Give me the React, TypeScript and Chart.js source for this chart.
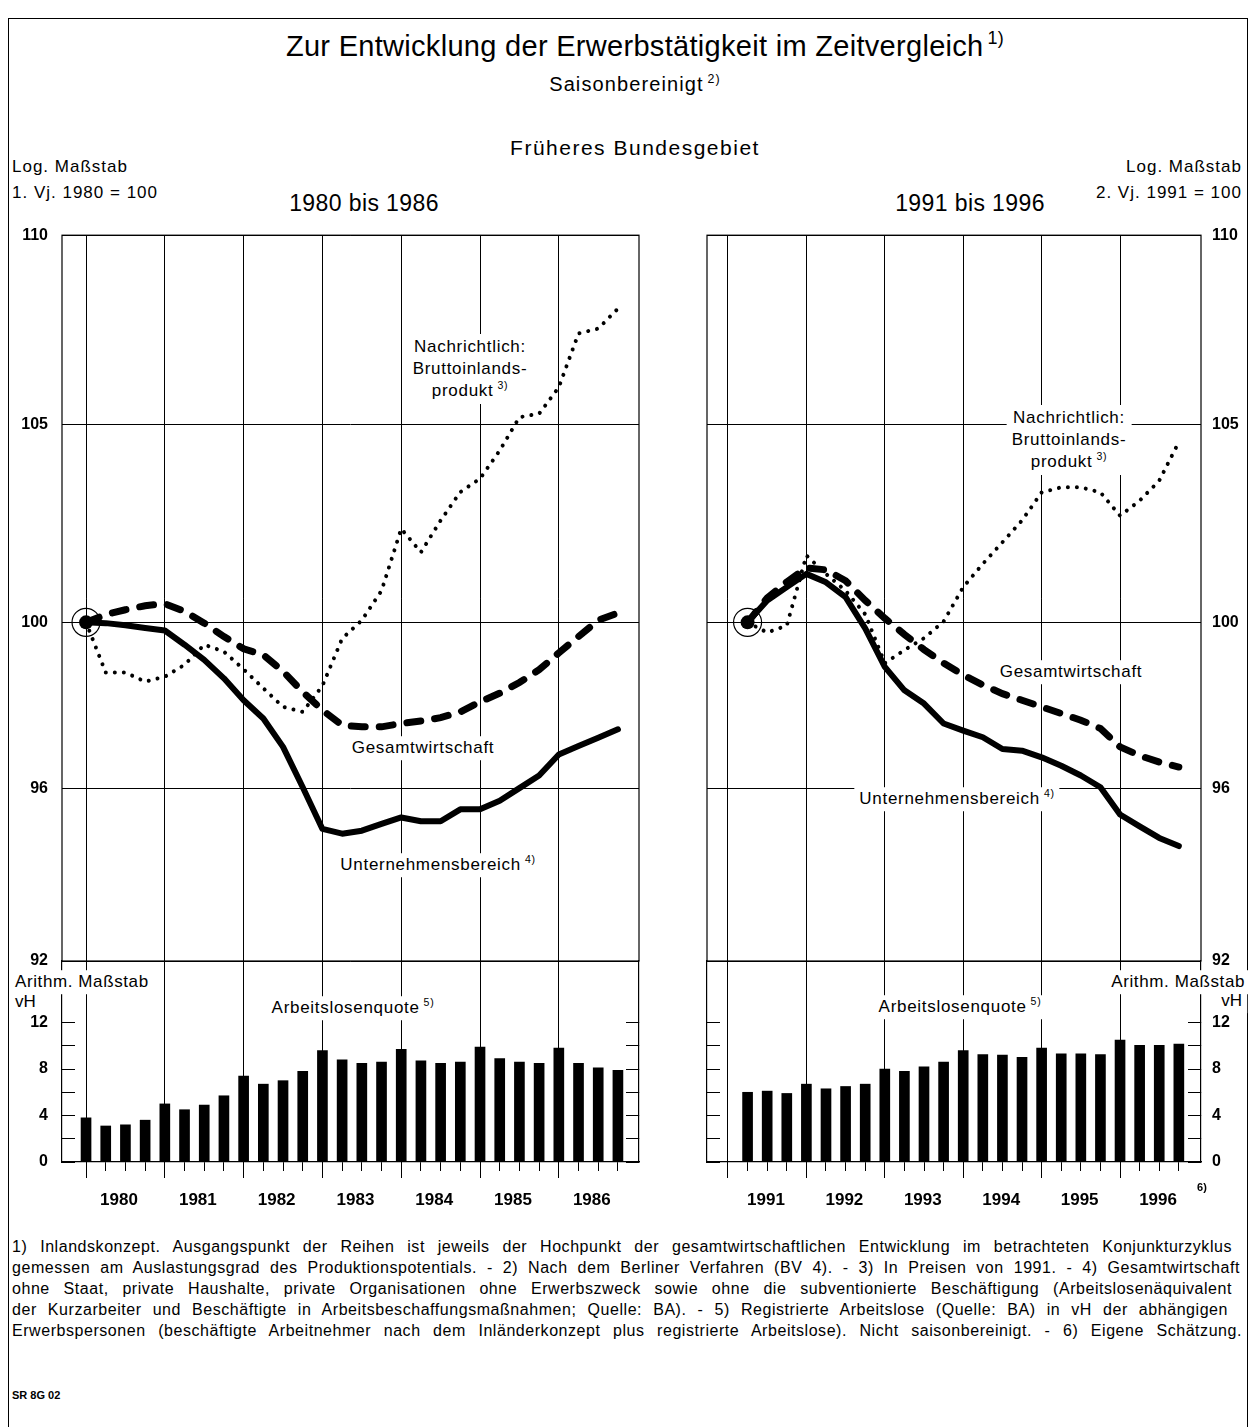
import React, { useEffect, useRef } from "react";
import { Chart, registerables } from "chart.js";

Chart.register(...registerables);

const FONT = "'Liberation Sans', Arial, Helvetica, sans-serif";
Chart.defaults.font.family = FONT;
Chart.defaults.color = "#000";

// ---------- Data: 1980 bis 1986 (1. Vj. 1980 = 100), quarters 1980 Q1 ... 1986 Q4
const yearsA = ["1980", "1981", "1982", "1983", "1984", "1985", "1986"];
const unternehmenA = [100.0, 99.98, 99.93, 99.86, 99.8, 99.45, 99.08, 98.63, 98.1, 97.66, 96.98, 96.02, 95.04, 94.93, 95.0, 95.16, 95.31, 95.22, 95.22, 95.5, 95.5, 95.7, 96.0, 96.3, 96.8, 97.0, 97.2, 97.4];
const gesamtA = [100.0, 100.19, 100.31, 100.41, 100.46, 100.27, 99.98, 99.65, 99.35, 99.2, 98.8, 98.3, 97.86, 97.5, 97.46, 97.46, 97.54, 97.6, 97.68, 97.82, 98.06, 98.27, 98.53, 98.84, 99.25, 99.65, 100.05, 100.23];
const bipA = [100.0, 98.77, 98.77, 98.55, 98.67, 98.96, 99.45, 99.28, 98.85, 98.39, 97.94, 97.82, 98.45, 99.6, 100.05, 100.78, 102.33, 101.74, 102.54, 103.26, 103.6, 104.32, 105.18, 105.27, 105.96, 107.37, 107.5, 108.03];
const aloA = [3.8, 3.1, 3.2, 3.6, 5.0, 4.5, 4.9, 5.7, 7.4, 6.7, 7.0, 7.8, 9.6, 8.8, 8.5, 8.6, 9.7, 8.7, 8.5, 8.6, 9.9, 8.9, 8.6, 8.5, 9.8, 8.5, 8.1, 7.9];

// ---------- Data: 1991 bis 1996 (2. Vj. 1991 = 100), quarters 1991 Q2 ... 1996 Q4
const yearsB = ["1991", "1992", "1993", "1994", "1995", "1996"];
const unternehmenB = [100.0, 100.54, 100.87, 101.2, 100.99, 100.62, 99.85, 98.91, 98.34, 98.02, 97.54, 97.37, 97.21, 96.93, 96.89, 96.73, 96.53, 96.3, 96.02, 95.38, 95.1, 94.83, 94.64];
const gesamtB = [100.0, 100.6, 101.0, 101.35, 101.3, 101.03, 100.54, 100.1, 99.7, 99.33, 99.0, 98.71, 98.47, 98.26, 98.1, 97.94, 97.78, 97.62, 97.42, 96.98, 96.77, 96.62, 96.5];
const bipB = [100.0, 99.75, 99.92, 101.66, 101.2, 100.78, 100.2, 99.0, 99.32, 99.61, 100.02, 100.87, 101.45, 101.99, 102.54, 103.25, 103.38, 103.38, 103.25, 102.66, 103.04, 103.55, 104.54];
const aloB = [6.0, 6.1, 5.9, 6.7, 6.3, 6.5, 6.7, 8.0, 7.8, 8.2, 8.6, 9.6, 9.25, 9.2, 9.0, 9.8, 9.3, 9.3, 9.25, 10.5, 10.05, 10.05, 10.15];

// ---------- Axis ticks
const logTicks = [92, 96, 100, 105, 110];
const aloTicks = [0, 2, 4, 6, 8, 10, 12];
const aloLabelStep = 4;

const footLines = [
  "1) Inlandskonzept. Ausgangspunkt der Reihen ist jeweils der Hochpunkt der gesamtwirtschaftlichen Entwicklung im betrachteten Konjunkturzyklus",
  "gemessen am Auslastungsgrad des Produktionspotentials. - 2) Nach dem Berliner Verfahren (BV 4). - 3) In Preisen von 1991. - 4) Gesamtwirtschaft",
  "ohne Staat, private Haushalte, private Organisationen ohne Erwerbszweck sowie ohne die subventionierte Beschäftigung (Arbeitslosenäquivalent",
  "der Kurzarbeiter und Beschäftigte in Arbeitsbeschaffungsmaßnahmen; Quelle: BA). - 5) Registrierte Arbeitslose (Quelle: BA) in vH der abhängigen",
  "Erwerbspersonen (beschäftigte Arbeitnehmer nach dem Inländerkonzept plus registrierte Arbeitslose). Nicht saisonbereinigt. - 6) Eigene Schätzung.",
];
const footWidths = [1220, 1228, 1220, 1216, 1230];

// ---------- Layout
const UP_TOP = 220;
const UP_H = 760;
const LO_TOP = 955;
const LO_H = 270;

type PanelProps = {
  left: number;
  width: number;
  padL: number;
  padR: number;
  side: "left" | "right";
  axisW: number;
  upLabelPad: number;
  loLabelPad: number;
  firstSlot: number;
  nSlots: number;
  xMin: number;
  xMax: number;
  years: string[];
  yearOffset: number;
  unternehmen: number[];
  gesamt: number[];
  bip: number[];
  alo: number[];
};

const framePlugin = {
  id: "frame",
  beforeDatasetsDraw(chart: any) {
    const { ctx, chartArea: a } = chart;
    ctx.save();
    ctx.strokeStyle = "#000";
    ctx.lineWidth = 1.2;
    ctx.strokeRect(a.left, a.top, a.right - a.left, a.bottom - a.top);
    ctx.restore();
  },
};

const setTicks = (vals: number[]) => (s: any) => {
  s.ticks = vals.map((v) => ({ value: v }));
};

const tickFont = { size: 16, weight: "bold" as const };

function upperConfig(p: PanelProps) {
  const pts = (arr: number[]) => arr.map((v, i) => ({ x: p.firstSlot + i, y: v }));
  const yearSlots = p.years.map((_, k) => 4 * k);
  return {
    type: "line",
    data: {
      datasets: [
        {
          label: "Ausgangspunkt",
          data: [{ x: p.firstSlot, y: p.unternehmen[0] }],
          showLine: false,
          pointRadius: 14,
          pointBorderWidth: 1.2,
          pointBorderColor: "#000",
          pointBackgroundColor: "rgba(0,0,0,0)",
        },
        {
          label: "Unternehmensbereich",
          data: pts(p.unternehmen),
          borderColor: "#000",
          borderWidth: 6,
          tension: 0,
          borderJoinStyle: "round",
          borderCapStyle: "round",
          pointRadius: (c: any) => (c.dataIndex === 0 ? 7 : 0),
          pointBackgroundColor: "#000",
          pointBorderWidth: 0,
        },
        {
          label: "Gesamtwirtschaft",
          data: pts(p.gesamt),
          borderColor: "#000",
          borderWidth: 7,
          borderDash: [14, 14],
          borderCapStyle: "round",
          tension: 0,
          pointRadius: 0,
        },
        {
          label: "Bruttoinlandsprodukt",
          data: pts(p.bip),
          borderColor: "#000",
          borderWidth: 4,
          borderDash: [0.01, 9],
          borderCapStyle: "round",
          tension: 0,
          pointRadius: 0,
        },
      ],
    },
    options: {
      animation: false,
      responsive: false,
      maintainAspectRatio: false,
      events: [],
      plugins: { legend: { display: false }, tooltip: { enabled: false } },
      layout: { padding: { left: p.padL, right: p.padR, top: 14, bottom: 19 } },
      scales: {
        x: {
          type: "linear",
          min: p.xMin,
          max: p.xMax,
          bounds: "data",
          offset: false,
          afterBuildTicks: setTicks(yearSlots),
          afterFit: (s: any) => {
            s.height = 0;
            s.paddingLeft = 0;
            s.paddingRight = 0;
          },
          grid: { color: "#000", lineWidth: 1, drawTicks: false, offset: false },
          border: { display: false },
          ticks: { display: false },
        },
        y: {
          type: "logarithmic",
          position: p.side,
          min: 92,
          max: 110,
          bounds: "data",
          afterBuildTicks: setTicks(logTicks),
          afterFit: (s: any) => {
            s.width = p.axisW;
            s.paddingTop = 0;
            s.paddingBottom = 0;
          },
          grid: { color: "#000", lineWidth: 1, drawTicks: false },
          border: { display: false },
          ticks: {
            padding: p.upLabelPad,
            color: "#000",
            font: tickFont,
            callback: (v: any) => String(v),
          },
        },
      },
    },
    plugins: [framePlugin],
  };
}

function lowerConfig(p: PanelProps) {
  const yearSlots = p.years.map((_, k) => 4 * k);
  const quarterSlots = Array.from({ length: p.nSlots }, (_, i) => i);
  const yMax = 17.3;
  const other = p.side === "left" ? "right" : "left";
  return {
    type: "bar",
    data: {
      datasets: [
        {
          label: "Arbeitslosenquote",
          data: p.alo.map((v, i) => ({ x: p.firstSlot + i, y: v })),
          backgroundColor: "#000",
          borderWidth: 0,
          barThickness: 10,
          xAxisID: "x",
          yAxisID: "y",
        },
      ],
    },
    options: {
      animation: false,
      responsive: false,
      maintainAspectRatio: false,
      events: [],
      plugins: { legend: { display: false }, tooltip: { enabled: false } },
      layout: { padding: { left: p.padL, right: p.padR, top: 6, bottom: 13 } },
      scales: {
        xq: {
          type: "linear",
          position: "bottom",
          weight: 0,
          min: p.xMin,
          max: p.xMax,
          bounds: "data",
          offset: false,
          afterBuildTicks: setTicks(quarterSlots),
          afterFit: (s: any) => {
            s.height = 0;
            s.paddingLeft = 0;
            s.paddingRight = 0;
          },
          grid: { drawOnChartArea: false, drawTicks: true, tickLength: 9, color: "#000", offset: false },
          border: { display: true, color: "#000", width: 1.2 },
          ticks: { display: false },
        },
        x: {
          type: "linear",
          position: "bottom",
          weight: 1,
          min: p.xMin,
          max: p.xMax,
          bounds: "data",
          offset: false,
          afterBuildTicks: setTicks(yearSlots),
          afterFit: (s: any) => {
            s.height = 50;
            s.paddingLeft = 0;
            s.paddingRight = 0;
          },
          grid: { drawOnChartArea: true, drawTicks: true, tickLength: 16, color: "#000", offset: false },
          border: { display: false },
          ticks: {
            display: true,
            autoSkip: false,
            maxRotation: 0,
            labelOffset: p.yearOffset,
            padding: 12,
            color: "#000",
            font: { size: 17, weight: "bold" },
            callback: (v: any) => {
              const k = yearSlots.indexOf(v);
              return k >= 0 ? p.years[k] : "";
            },
          },
        },
        y: {
          type: "linear",
          position: p.side,
          min: 0,
          max: yMax,
          bounds: "data",
          afterBuildTicks: setTicks(aloTicks),
          afterFit: (s: any) => {
            s.width = p.axisW;
            s.paddingTop = 0;
            s.paddingBottom = 0;
          },
          grid: { drawOnChartArea: false, drawTicks: true, tickLength: -13, color: "#000" },
          border: { display: true, color: "#000", width: 1.2 },
          ticks: {
            padding: p.loLabelPad,
            color: "#000",
            font: tickFont,
            callback: (v: any) => (v % aloLabelStep === 0 ? String(v) : ""),
          },
        },
        y2: {
          type: "linear",
          position: other,
          min: 0,
          max: yMax,
          bounds: "data",
          afterBuildTicks: setTicks(aloTicks),
          afterFit: (s: any) => {
            s.width = 0;
            s.paddingTop = 0;
            s.paddingBottom = 0;
          },
          grid: { drawOnChartArea: false, drawTicks: true, tickLength: -13, color: "#000" },
          border: { display: true, color: "#000", width: 1.2 },
          ticks: { display: false },
        },
      },
    },
  };
}

function Panel(p: PanelProps) {
  const upRef = useRef<HTMLCanvasElement>(null);
  const loRef = useRef<HTMLCanvasElement>(null);
  useEffect(() => {
    const c1 = new Chart(upRef.current as HTMLCanvasElement, upperConfig(p) as any);
    const c2 = new Chart(loRef.current as HTMLCanvasElement, lowerConfig(p) as any);
    return () => {
      c1.destroy();
      c2.destroy();
    };
  }, []);
  return (
    <>
      <canvas
        ref={upRef}
        width={p.width}
        height={UP_H}
        style={{ position: "absolute", left: p.left, top: UP_TOP, width: p.width, height: UP_H }}
      />
      <canvas
        ref={loRef}
        width={p.width}
        height={LO_H}
        style={{ position: "absolute", left: p.left, top: LO_TOP, width: p.width, height: LO_H }}
      />
    </>
  );
}

function Sup({ c }: { c: string }) {
  return (
    <span style={{ fontSize: "0.62em", position: "relative", top: "-0.65em", marginLeft: 4, lineHeight: 0 }}>{c}</span>
  );
}

function T(props: any) {
  const { x, y, size, align = "center", bold, bg, children, lh, ls } = props;
  const tx = align === "center" ? "-50%" : align === "right" ? "-100%" : "0";
  return (
    <div
      style={{
        position: "absolute",
        left: x,
        top: y,
        transform: `translate(${tx}, -50%)`,
        fontFamily: FONT,
        fontSize: size,
        fontWeight: bold ? "bold" : "normal",
        letterSpacing: ls ? `${ls}px` : "normal",
        whiteSpace: "nowrap",
        lineHeight: lh ? `${lh}px` : 1.15,
        textAlign: align,
        background: bg ? "#fff" : "transparent",
        padding: bg ? "2px 5px" : 0,
        color: "#000",
      }}
    >
      {children}
    </div>
  );
}

export default function App() {
  const panelA: PanelProps = {
    left: 0,
    width: 660,
    padL: 0,
    padR: 21,
    side: "left",
    axisW: 62,
    upLabelPad: 14,
    loLabelPad: 27,
    firstSlot: 0,
    nSlots: 28,
    xMin: -1.22,
    xMax: 28.07,
    years: yearsA,
    yearOffset: 33,
    unternehmen: unternehmenA,
    gesamt: gesamtA,
    bip: bipA,
    alo: aloA,
  };
  const panelB: PanelProps = {
    left: 680,
    width: 571,
    padL: 27,
    padR: 0,
    side: "right",
    axisW: 50,
    upLabelPad: 11,
    loLabelPad: 24,
    firstSlot: 1,
    nSlots: 24,
    xMin: -1.07,
    xMax: 24.13,
    years: yearsB,
    yearOffset: 38,
    unternehmen: unternehmenB,
    gesamt: gesamtB,
    bip: bipB,
    alo: aloB,
  };

  const AN = 17; // annotation font size
  const ANLS = 0.7;

  return (
    <div
      style={{
        position: "absolute",
        left: 0,
        top: 0,
        width: 1251,
        height: 1427,
        overflow: "hidden",
        background: "#fff",
        fontFamily: FONT,
        color: "#000",
      }}
    >
      <div
        style={{
          position: "absolute",
          left: 8,
          top: 18,
          width: 1238,
          height: 1440,
          border: "1.5px solid #000",
        }}
      />
      <Panel {...panelA} />
      <Panel {...panelB} />

      {/* headings */}
      <T x={645} y={47} size={29} ls={0.3}>
        Zur Entwicklung der Erwerbstätigkeit im Zeitvergleich
        <Sup c="1)" />
      </T>
      <T x={635} y={84} size={20} ls={1.1}>
        Saisonbereinigt
        <Sup c="2)" />
      </T>
      <T x={635} y={148} size={21} ls={1.5}>
        Früheres Bundesgebiet
      </T>
      <T x={12} y={167} size={17} ls={1} align="left">
        Log. Maßstab
      </T>
      <T x={12} y={193} size={17} ls={1} align="left">
        1. Vj. 1980 = 100
      </T>
      <T x={1242} y={167} size={17} ls={1} align="right">
        Log. Maßstab
      </T>
      <T x={1242} y={193} size={17} ls={1} align="right">
        2. Vj. 1991 = 100
      </T>
      <T x={364} y={203} size={23} ls={0.4}>
        1980 bis 1986
      </T>
      <T x={970} y={203} size={23} ls={0.4}>
        1991 bis 1996
      </T>

      {/* annotations left */}
      <T x={470} y={369} size={AN} ls={ANLS} bg lh={22}>
        Nachrichtlich:
        <br />
        Bruttoinlands-
        <br />
        produkt
        <Sup c="3)" />
      </T>
      <T x={423} y={748} size={AN} ls={ANLS} bg>
        Gesamtwirtschaft
      </T>
      <T x={438} y={865} size={AN} ls={ANLS} bg>
        Unternehmensbereich
        <Sup c="4)" />
      </T>
      {/* annotations right */}
      <T x={1069} y={440} size={AN} ls={ANLS} bg lh={22}>
        Nachrichtlich:
        <br />
        Bruttoinlands-
        <br />
        produkt
        <Sup c="3)" />
      </T>
      <T x={1071} y={672} size={AN} ls={ANLS} bg>
        Gesamtwirtschaft
      </T>
      <T x={957} y={799} size={AN} ls={ANLS} bg>
        Unternehmensbereich
        <Sup c="4)" />
      </T>

      {/* bar section labels */}
      <T x={10} y={982} size={AN} ls={0.6} align="left" bg>
        Arithm. Maßstab
      </T>
      <T x={10} y={1002} size={AN} align="left" bg>
        vH
      </T>
      <T x={353} y={1008} size={AN} ls={ANLS} bg>
        Arbeitslosenquote
        <Sup c="5)" />
      </T>
      <T x={1250} y={982} size={AN} ls={0.6} align="right" bg>
        Arithm. Maßstab
      </T>
      <T x={1247} y={1001} size={AN} align="right" bg>
        vH
      </T>
      <T x={960} y={1007} size={AN} ls={ANLS} bg>
        Arbeitslosenquote
        <Sup c="5)" />
      </T>
      <T x={1202} y={1187} size={11} bold>
        6)
      </T>

      {/* footnotes */}
      {footLines.map((l, i) => (
        <div
          key={i}
          style={{
            position: "absolute",
            left: 12,
            top: 1236 + i * 21,
            width: footWidths[i],
            fontFamily: FONT,
            fontSize: 16,
            letterSpacing: "0.55px",
            lineHeight: "21px",
            textAlign: "justify",
            textAlignLast: "justify",
            color: "#000",
          }}
        >
          {l}
        </div>
      ))}
      <T x={12} y={1395} size={11} bold align="left">
        SR 8G 02
      </T>
    </div>
  );
}
